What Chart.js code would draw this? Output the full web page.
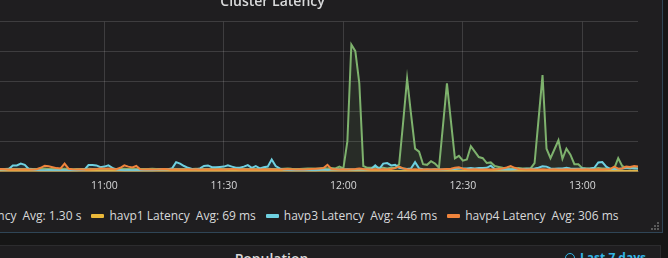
<!DOCTYPE html>
<html>
<head>
<meta charset="utf-8">
<script src="https://cdn.jsdelivr.net/npm/chart.js@4.4.1/dist/chart.umd.min.js"></script>
<style>
  html, body { margin: 0; padding: 0; }
  body {
    width: 668px; height: 258px; overflow: hidden; position: relative;
    background: #161616; font-family: 'Open Sans', sans-serif; color: #d8d9da;
  }
  .panel { position: absolute; box-sizing: border-box; background: #1f1e20; }
  #p1 { left: -118px; top: -40px; width: 781px; height: 273px; border: 1px solid #2f4556; }
  #p2 { left: -118px; top: 245px; width: 779px; height: 40px; border: 1px solid #2c2c2e; }
  #latency { position: absolute; left: -120px; top: -6px; }
  #legend {
    position: absolute; top: 208px; left: -82px; white-space: nowrap;
    display: flex; align-items: center; font-size: 12px; line-height: 16px;
  }
  .item { display: flex; align-items: center; margin-right: 10px; }
  .mark { width: 13px; height: 4px; border-radius: 1px; margin-right: 5px; }
  .avg { margin-left: 6px; }
  .resize {
    position: absolute; left: 657px; top: 228px; width: 2px; height: 2px; background: #5a5a5a;
    box-shadow: -3px 0 #5a5a5a, -6px 0 #5a5a5a, 0 -3px #5a5a5a, -3px -3px #5a5a5a, 0 -6px #5a5a5a;
  }
  #p2title {
    position: absolute; left: -118px; width: 779px; top: 251px; text-align: center;
    font-size: 14px; font-weight: 600; line-height: 16px;
  }
  #p2time {
    position: absolute; right: 22px; top: 250px; color: #33b5e5;
    font-size: 12px; font-weight: 700; line-height: 16px;
  }
  .clock {
    display: inline-block; box-sizing: border-box; width: 10px; height: 10px;
    border: 1.5px solid #33b5e5; border-radius: 50%; margin-right: 5px; vertical-align: -1px;
  }
</style>
</head>
<body>
<div class="panel" id="p1"></div>
<canvas id="latency" width="782" height="206"></canvas>
<div id="legend"></div>
<div class="resize"></div>
<div class="panel" id="p2"></div>
<div id="p2title">Population</div>
<div id="p2time"><span class="clock"></span>Last 7 days</div>
<script>
// one sample per minute from 10:30, values in seconds
const startMinute = 10 * 60 + 30;
const tickMinutes = [630, 660, 690, 720, 750, 780];

const seriesNames = ['havp2 Latency', 'havp1 Latency', 'havp3 Latency', 'havp4 Latency'];
const avgLabels = ['Avg: 1.30 s', 'Avg: 69 ms', 'Avg: 446 ms', 'Avg: 306 ms'];
const colors = ['#7eb26d', '#eab839', '#6ed0e0', '#ef843c'];

const havp2 = [
  0.40, 0.42, 0.45, 0.40, 0.38, 0.42, 0.45, 0.40, 0.42, 0.40,
  0.40, 0.45, 0.42, 0.40, 0.45, 0.48, 0.42, 0.40, 0.40, 0.42,
  0.45, 0.40, 0.38, 0.40, 0.42, 0.40, 0.45, 0.42, 0.40, 0.40,
  0.42, 0.40, 0.45, 0.40, 0.42, 0.45, 0.40, 0.40, 0.42, 0.40,
  0.40, 0.42, 0.45, 0.40, 0.40, 0.42, 0.40, 0.45, 0.42, 0.40,
  0.40, 0.42, 0.40, 0.45, 0.40, 0.42, 0.40, 0.40, 0.45, 0.42,
  0.40, 0.42, 0.40, 0.40, 0.45, 0.42, 0.40, 0.42, 0.40, 0.40,
  0.42, 0.45, 0.40, 0.42, 0.40, 0.45, 0.50, 0.45, 0.42, 0.40,
  0.45, 0.50, 0.48, 0.45, 0.50, 0.55, 0.50, 0.55, 0.50, 0.80,
  0.50, 5.00, 21.2, 20.1, 14.7, 0.90, 0.60, 0.60, 0.70, 0.60,
  0.60, 0.50, 0.60, 0.60, 1.20, 8.20, 15.5, 9.50, 3.80, 3.30,
  1.20, 1.10, 1.70, 1.30, 0.60, 7.60, 14.7, 8.40, 2.20, 2.60,
  1.80, 2.00, 4.20, 3.30, 2.40, 2.20, 1.40, 1.50, 0.90, 0.75,
  0.60, 0.55, 0.50, 0.50, 0.55, 0.50, 0.50, 0.50, 1.40, 8.70,
  16.1, 3.80, 2.20, 3.70, 5.20, 2.10, 3.80, 2.80, 1.20, 1.20,
  0.55, 0.50, 0.50, 0.50, 0.55, 0.50, 0.50, 0.50, 0.50, 2.20,
  0.90, 0.60, 0.50, 0.60, 0.50
];
const havp1 = [
  0.07, 0.06, 0.07, 0.08, 0.07, 0.07, 0.06, 0.07, 0.08, 0.07,
  0.07, 0.07, 0.06, 0.07, 0.07, 0.08, 0.07, 0.06, 0.07, 0.07,
  0.08, 0.07, 0.07, 0.06, 0.07, 0.07, 0.07, 0.08, 0.07, 0.06,
  0.07, 0.07, 0.08, 0.07, 0.06, 0.07, 0.07, 0.07, 0.08, 0.07,
  0.06, 0.07, 0.07, 0.08, 0.07, 0.07, 0.06, 0.07, 0.07, 0.08,
  0.07, 0.06, 0.07, 0.07, 0.08, 0.07, 0.07, 0.06, 0.07, 0.07,
  0.08, 0.07, 0.06, 0.07, 0.07, 0.07, 0.08, 0.07, 0.06, 0.07,
  0.07, 0.08, 0.07, 0.07, 0.06, 0.07, 0.07, 0.08, 0.07, 0.07,
  0.06, 0.07, 0.07, 0.08, 0.07, 0.06, 0.07, 0.07, 0.07, 0.08,
  0.07, 0.06, 0.07, 0.07, 0.08, 0.07, 0.07, 0.06, 0.07, 0.07,
  0.08, 0.07, 0.06, 0.07, 0.07, 0.07, 0.08, 0.07, 0.06, 0.07,
  0.07, 0.08, 0.07, 0.07, 0.06, 0.07, 0.07, 0.08, 0.07, 0.07,
  0.06, 0.07, 0.07, 0.08, 0.07, 0.06, 0.07, 0.07, 0.07, 0.08,
  0.07, 0.06, 0.07, 0.07, 0.08, 0.07, 0.07, 0.06, 0.07, 0.07,
  0.08, 0.07, 0.06, 0.07, 0.07, 0.07, 0.08, 0.07, 0.06, 0.07,
  0.07, 0.08, 0.07, 0.07, 0.06, 0.07, 0.07, 0.08, 0.07, 0.07,
  0.06, 0.07, 0.07, 0.08, 0.07
];
const havp3 = [
  0.30, 0.25, 0.30, 0.35, 0.30, 0.30, 0.40, 1.00, 1.00, 1.30,
  1.10, 0.40, 0.30, 0.25, 0.20, 0.20, 0.25, 0.20, 0.20, 0.25,
  0.20, 0.20, 0.25, 0.20, 0.25, 0.30, 1.05, 1.05, 1.00, 0.70,
  0.80, 1.00, 0.60, 0.30, 0.25, 0.20, 0.25, 0.20, 0.25, 0.20,
  0.20, 0.25, 0.20, 0.25, 0.30, 0.30, 0.35, 0.50, 1.55, 1.30,
  0.90, 0.60, 0.40, 0.35, 0.50, 0.90, 1.00, 0.70, 0.70, 0.75,
  0.80, 1.00, 0.80, 0.60, 0.60, 0.80, 1.05, 0.60, 0.90, 0.50,
  0.70, 0.80, 2.00, 0.90, 0.50, 0.30, 0.25, 0.20, 0.20, 0.25,
  0.20, 0.25, 0.20, 0.20, 0.25, 0.30, 0.25, 0.30, 0.30, 0.35,
  0.30, 0.35, 0.30, 0.30, 0.35, 0.30, 0.35, 0.40, 1.00, 0.40,
  1.30, 1.40, 1.00, 1.10, 0.60, 0.50, 0.40, 0.50, 1.55, 0.50,
  0.35, 0.30, 0.30, 0.35, 0.30, 0.30, 0.35, 0.40, 0.40, 0.45,
  0.50, 0.50, 0.55, 0.50, 0.55, 0.55, 0.60, 0.95, 0.40, 0.35,
  0.30, 0.35, 0.30, 0.35, 0.40, 0.40, 0.45, 0.45, 0.50, 0.60,
  0.85, 0.80, 0.50, 0.45, 0.50, 0.50, 0.60, 0.50, 0.45, 0.45,
  0.50, 0.45, 0.50, 0.60, 1.50, 1.55, 0.80, 0.40, 0.40, 0.40,
  0.50, 0.60, 0.60, 0.50, 0.50
];
const havp4 = [
  0.40, 0.50, 0.55, 0.45, 0.40, 0.35, 0.30, 0.35, 0.30, 0.30,
  0.35, 0.30, 0.30, 0.35, 0.60, 0.95, 0.85, 0.70, 0.55, 0.50,
  1.30, 0.45, 0.35, 0.30, 0.35, 0.30, 0.30, 0.35, 0.40, 0.50,
  0.45, 0.50, 0.40, 0.35, 0.60, 1.00, 0.80, 0.65, 0.90, 0.35,
  0.30, 0.35, 0.30, 0.30, 0.35, 0.40, 0.35, 0.30, 0.35, 0.30,
  0.30, 0.35, 0.30, 0.35, 0.30, 0.30, 0.35, 0.30, 0.30, 0.35,
  0.30, 0.35, 0.40, 0.35, 0.30, 0.35, 0.30, 0.35, 0.30, 0.30,
  0.35, 0.30, 0.35, 0.30, 0.30, 0.35, 0.40, 0.35, 0.30, 0.35,
  0.30, 0.35, 0.40, 0.45, 0.50, 0.55, 1.10, 0.40, 0.35, 0.30,
  0.35, 0.30, 0.35, 0.40, 0.50, 0.40, 0.35, 0.30, 0.35, 0.30,
  0.35, 0.30, 0.40, 0.55, 0.80, 0.50, 0.35, 0.30, 0.35, 0.30,
  0.30, 0.35, 0.30, 0.35, 0.30, 0.35, 0.40, 0.45, 0.60, 0.70,
  0.45, 0.35, 0.30, 0.35, 0.30, 0.30, 0.35, 0.30, 0.35, 0.40,
  0.50, 0.65, 0.90, 0.60, 0.40, 0.35, 0.30, 0.35, 0.30, 0.30,
  0.35, 0.30, 0.30, 0.35, 0.30, 0.30, 0.35, 0.30, 0.30, 0.35,
  0.30, 0.35, 0.30, 0.30, 0.35, 0.30, 0.35, 0.40, 0.80, 0.45,
  0.50, 0.80, 0.75, 0.90, 0.80
];

const seriesValues = [havp2, havp1, havp3, havp4];
const times = havp2.map((v, i) => startMinute + i);

function hhmm(m) {
  const h = Math.floor(m / 60);
  const mm = Math.round(m % 60);
  return h + ':' + String(mm).padStart(2, '0');
}

Chart.defaults.font.family = "'Open Sans', sans-serif";
const gridColor = 'rgba(255,255,255,0.14)';

const datasets = seriesNames.map((name, i) => ({
  label: name,
  data: seriesValues[i].map((v, j) => ({ x: times[j], y: v })),
  borderColor: colors[i],
  backgroundColor: colors[i] + '1a',
  borderWidth: 2,
  fill: 'origin',
  pointRadius: 0,
  tension: 0,
  order: seriesNames.length - i
}));

new Chart(document.getElementById('latency'), {
  type: 'line',
  data: { datasets: datasets },
  options: {
    responsive: false,
    animation: false,
    layout: { padding: { left: 27, right: 24, top: 0, bottom: 0 } },
    plugins: {
      legend: { display: false },
      tooltip: { enabled: false },
      title: {
        display: true,
        text: 'Cluster Latency',
        color: '#d8d9da',
        font: { size: 14, weight: '600' },
        padding: { top: 0, bottom: 11 }
      }
    },
    scales: {
      x: {
        type: 'linear',
        min: 618.72,
        max: 793.97,
        afterBuildTicks: axis => { axis.ticks = tickMinutes.map(v => ({ value: v })); },
        ticks: { callback: v => hhmm(v), color: '#d8d9da', font: { size: 10.5 }, padding: 8, maxRotation: 0, autoSkip: false },
        grid: { color: gridColor, drawTicks: false },
        border: { color: gridColor }
      },
      y: {
        min: 0,
        max: 25,
        afterFit: axis => { axis.width = 33; },
        ticks: { stepSize: 5, callback: v => v === 0 ? '0 ms' : v + ' s', color: '#d8d9da', font: { size: 10.5 }, padding: 6 },
        grid: { color: gridColor, drawTicks: false },
        border: { display: false }
      }
    }
  }
});

// grafana-style legend under the graph
const legend = document.getElementById('legend');
seriesNames.forEach((name, i) => {
  const item = document.createElement('div');
  item.className = 'item';
  item.innerHTML = '<span class="mark" style="background:' + colors[i] + '"></span>' +
    '<span>' + name + '</span><span class="avg">' + avgLabels[i] + '</span>';
  legend.appendChild(item);
});
</script>
</body>
</html>
